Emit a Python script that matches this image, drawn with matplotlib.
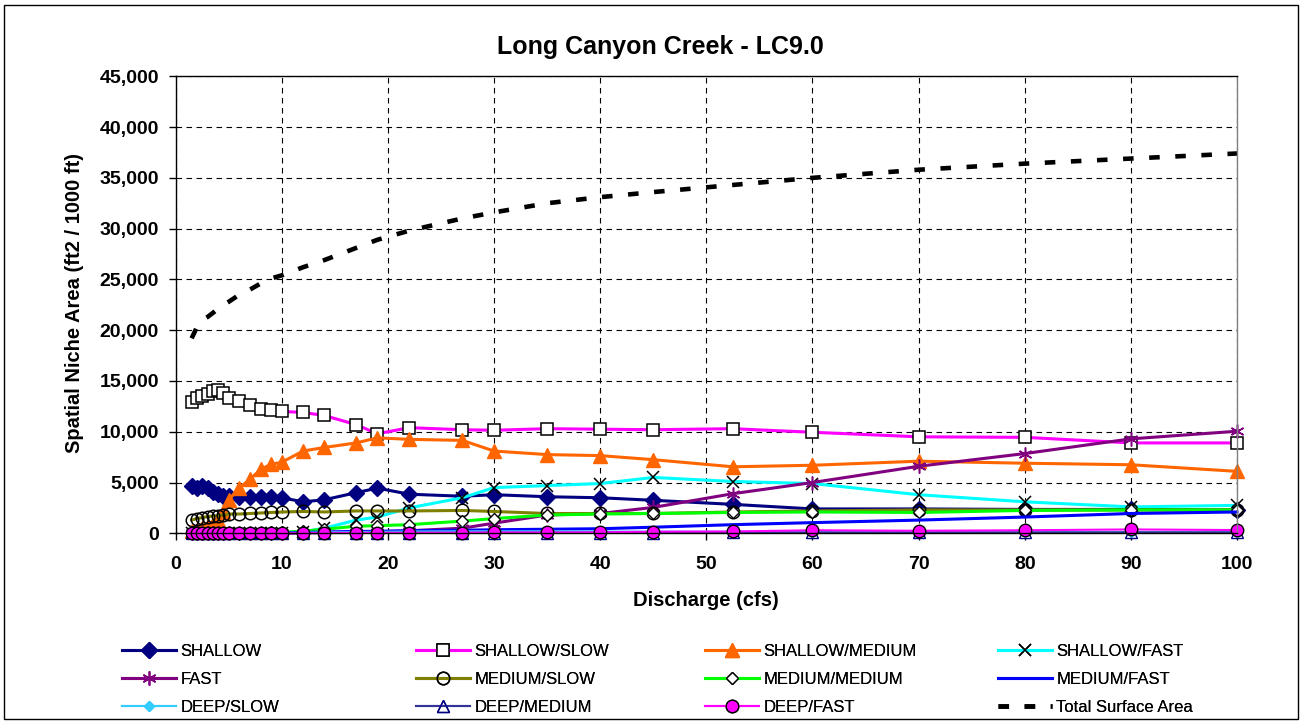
import matplotlib
matplotlib.use("Agg")
import matplotlib.pyplot as plt
from matplotlib.patches import Rectangle
from matplotlib.ticker import FuncFormatter, MultipleLocator

plt.rcParams['font.family'] = ['Liberation Sans', 'DejaVu Sans']

# discharge (cfs)
discharge = [1.5, 2, 2.5, 3, 3.5, 4, 4.5, 5, 6, 7, 8, 9, 10, 12, 14, 17, 19, 22,
             27, 30, 35, 40, 45, 52.5, 60, 70, 80, 90, 100]

# spatial niche area (ft2 / 1000 ft)
shallow = [4650, 4450, 4700, 4450, 4100, 3900, 3700, 3650, 3600, 3600, 3550, 3550, 3500, 3100, 3300,
           4000, 4450, 3850, 3650, 3800, 3600, 3500, 3250, 2850, 2400, 2400, 2350, 2350, 2300]
shallow_slow = [12900, 13300, 13500, 13700, 14000, 14100, 13800, 13300, 13000, 12600, 12200, 12100, 12000,
                11900, 11600, 10700, 9800, 10400, 10200, 10150, 10300, 10250, 10200, 10300, 9950, 9500,
                9450, 8900, 8900]
shallow_medium = [200, 350, 500, 700, 950, 1300, 2100, 3300, 4500, 5300, 6300, 6800, 7000, 8100, 8450,
                  8900, 9400, 9250, 9150, 8100, 7750, 7650, 7250, 6550, 6700, 7100, 6900, 6750, 6100]
shallow_fast = [0, 0, 0, 0, 0, 0, 0, 0, 0, 0, 0, 0, 50, 150, 500, 1300, 1600, 2500, 3500, 4500, 4700,
                4900, 5500, 5100, 4900, 3800, 3100, 2600, 2750]
fast = [0, 0, 0, 0, 0, 0, 0, 0, 0, 0, 0, 0, 30, 50, 80, 100, 150, 250, 500, 1000, 1800, 1950, 2550,
        3900, 5000, 6600, 7850, 9300, 10050]
medium_slow = [1300, 1450, 1550, 1650, 1700, 1750, 1800, 1900, 1900, 1950, 2000, 2050, 2100, 2150, 2100,
               2200, 2200, 2200, 2250, 2150, 1950, 1950, 1950, 2100, 2200, 2300, 2300, 2300, 2300]
medium_medium = [0, 0, 0, 0, 0, 0, 0, 0, 0, 0, 50, 80, 100, 200, 400, 700, 750, 850, 1200, 1450, 1800,
                 1900, 1950, 2050, 2100, 2050, 2250, 2300, 2300]
medium_fast = [0, 0, 0, 0, 0, 0, 0, 0, 0, 0, 0, 0, 30, 80, 130, 180, 200, 250, 300, 350, 400, 450, 600,
               850, 1050, 1300, 1600, 1950, 2100]
deep_slow = [0, 0, 0, 0, 0, 0, 0, 0, 0, 0, 0, 0, 30, 60, 100, 120, 150, 180, 200, 200, 200, 180, 160,
             150, 130, 120, 110, 100, 100]
deep_medium = [0, 0, 0, 0, 0, 0, 0, 0, 0, 0, 0, 0, 0, 10, 20, 30, 40, 50, 50, 60, 60, 70, 70, 80, 80,
               90, 90, 100, 100]
deep_fast = [0, 0, 0, 0, 0, 0, 0, 0, 0, 0, 0, 0, 0, 20, 30, 50, 50, 50, 60, 80, 80, 100, 160, 180, 300,
             250, 300, 380, 320]
total_area = [19200, 20300, 21000, 21300, 21700, 22100, 22500, 22800, 23500, 24000, 24600, 25100, 25400,
              26200, 26900, 28100, 28900, 29800, 31000, 31600, 32500, 33100, 33600, 34300, 35000, 35800,
              36400, 36900, 37400]

W, H = 1303, 723
fig = plt.figure(figsize=(W / 100, H / 100), dpi=100)
fig.patches.append(Rectangle((4 / W, 4 / H), (W - 9) / W, (H - 9) / H, transform=fig.transFigure,
                             fill=False, edgecolor='black', linewidth=1))

ax = fig.add_axes([175.7 / W, 1 - 533.3 / H, (1237 - 175.7) / W, (533.3 - 76.3) / H])

series = [
    ('SHALLOW', shallow, dict(color='#000080', lw=2.2, marker='D', ms=8, mfc='#000080', mec='#000080')),
    ('SHALLOW/SLOW', shallow_slow, dict(color='#FF00FF', lw=2.2, marker='s', ms=9, mfc='white', mec='black', mew=1.1)),
    ('SHALLOW/MEDIUM', shallow_medium, dict(color='#FF6600', lw=2.2, marker='^', ms=9.5, mfc='#FF6600', mec='#FF6600')),
    ('SHALLOW/FAST', shallow_fast, dict(color='#00FFFF', lw=2.2, marker='x', ms=9, mec='black', mew=1.1)),
    ('FAST', fast, dict(color='#800080', lw=2.2, marker=(6, 2, 0), ms=10, mec='#800080', mew=1.1)),
    ('MEDIUM/SLOW', medium_slow, dict(color='#808000', lw=2.2, marker='o', ms=9, mfc='none', mec='black', mew=1.1)),
    ('MEDIUM/MEDIUM', medium_medium, dict(color='#00FF00', lw=2.2, marker='D', ms=6, mfc='white', mec='black', mew=1.0)),
    ('MEDIUM/FAST', medium_fast, dict(color='#0000FF', lw=2.2)),
    ('DEEP/SLOW', deep_slow, dict(color='#33CCFF', lw=1.5, marker='D', ms=5, mfc='#33CCFF', mec='#33CCFF')),
    ('DEEP/MEDIUM', deep_medium, dict(color='#333399', lw=1.5, marker='^', ms=8, mfc='none', mec='#000080', mew=1.0)),
    ('DEEP/FAST', deep_fast, dict(color='#FF00FF', lw=1.5, marker='o', ms=9, mfc='#FF00FF', mec='black', mew=1.0)),
]

handles = []
for label, vals, kw in series:
    ln, = ax.plot(discharge, vals, label=label, clip_on=False, **kw)
    handles.append(ln)

tot, = ax.plot(discharge, total_area, color='black', lw=3.3, linestyle=(0, (2.3, 3.4)),
               dash_capstyle='butt', label='Total Surface Area')
handles.append(tot)

ax.set_xlim(0, 100)
ax.set_ylim(0, 45000)
ax.xaxis.set_major_locator(MultipleLocator(10))
ax.yaxis.set_major_locator(MultipleLocator(5000))
ax.yaxis.set_major_formatter(FuncFormatter(lambda v, p: f'{v:,.0f}'))
ax.grid(True, color='black', linestyle=(0, (5, 4)), linewidth=0.8)
ax.set_axisbelow(True)
for s in ax.spines.values():
    s.set_color('black')
    s.set_linewidth(1)
ax.spines['right'].set_color('#808080')
ax.tick_params(direction='out', length=5, width=1, labelsize=14)
ax.tick_params(axis='y', pad=7)
ax.tick_params(axis='x', pad=11.5)
for t in ax.get_xticklabels() + ax.get_yticklabels():
    t.set_fontweight('bold')

fig.text(660 / W, 1 - 47 / H, 'Long Canyon Creek - LC9.0', ha='center', va='center',
         fontsize=18, fontweight='bold')
fig.text(706 / W, 1 - 601 / H, 'Discharge (cfs)', ha='center', va='center',
         fontsize=14.5, fontweight='bold')
fig.text(75 / W, 1 - 303 / H, 'Spatial Niche Area (ft2 / 1000 ft)', ha='center', va='center',
         rotation=90, fontsize=14.5, fontweight='bold')

# legend laid out as 4 columns, filled row by row
col_x = [122, 416, 705, 998]
for c in range(4):
    hs = [handles[c], handles[c + 4], handles[c + 8]]
    leg = fig.legend(handles=hs, labels=[h.get_label() for h in hs], loc='upper left',
                     bbox_to_anchor=(col_x[c] / W, 1 - 644 / H), frameon=False, fontsize=12,
                     handlelength=3.25, handletextpad=0.25, labelspacing=0.78, borderpad=0,
                     borderaxespad=0, numpoints=1)
    fig.add_artist(leg)

fig.savefig('out.png', dpi=100)
